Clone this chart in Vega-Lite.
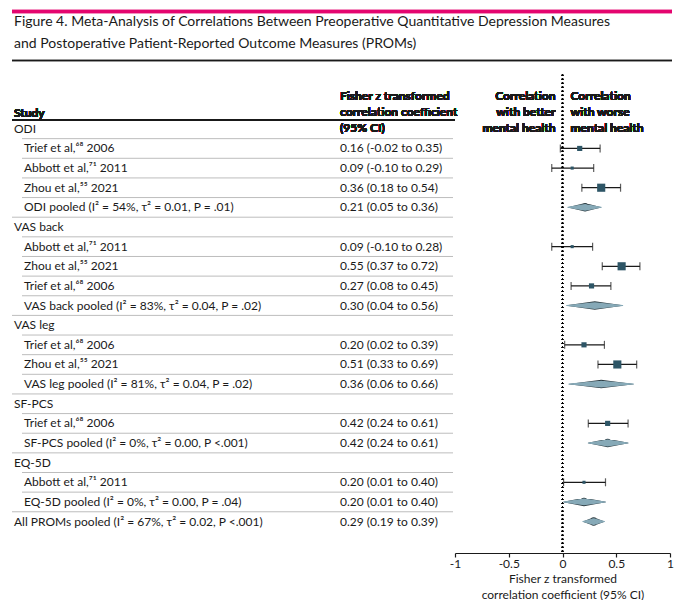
{
  "$schema": "https://vega.github.io/schema/vega-lite/v6.json",
  "padding": {"left": 10, "top": 0, "right": 0, "bottom": 0},
  "background": "white",
  "config": {
    "view": {"stroke": null},
    "font": "Lato",
    "text": {"font": "Lato", "fontSize": 12, "color": "#1a1a1a", "baseline": "middle", "align": "left"}
  },
  "datasets": {
    "rows": [
      {"row": 1, "label": "ODI", "level": 0, "type": "group"},
      {"row": 2, "label": "Trief et al,⁶⁸ 2006", "level": 1, "type": "study", "ci": "0.16 (-0.02 to 0.35)", "est": 0.16, "lo": -0.02, "hi": 0.35, "weight": 25},
      {"row": 3, "label": "Abbott et al,⁷¹ 2011", "level": 1, "type": "study", "ci": "0.09 (-0.10 to 0.29)", "est": 0.09, "lo": -0.10, "hi": 0.29, "weight": 9},
      {"row": 4, "label": "Zhou et al,⁵⁵ 2021", "level": 1, "type": "study", "ci": "0.36 (0.18 to 0.54)", "est": 0.36, "lo": 0.18, "hi": 0.54, "weight": 62},
      {"row": 5, "label": "ODI pooled (I² = 54%, τ² = 0.01, P = .01)", "level": 1, "type": "pooled", "ci": "0.21 (0.05 to 0.36)", "est": 0.21, "lo": 0.05, "hi": 0.36},
      {"row": 6, "label": "VAS back", "level": 0, "type": "group"},
      {"row": 7, "label": "Abbott et al,⁷¹ 2011", "level": 1, "type": "study", "ci": "0.09 (-0.10 to 0.28)", "est": 0.09, "lo": -0.10, "hi": 0.28, "weight": 9},
      {"row": 8, "label": "Zhou et al,⁵⁵ 2021", "level": 1, "type": "study", "ci": "0.55 (0.37 to 0.72)", "est": 0.55, "lo": 0.37, "hi": 0.72, "weight": 62},
      {"row": 9, "label": "Trief et al,⁶⁸ 2006", "level": 1, "type": "study", "ci": "0.27 (0.08 to 0.45)", "est": 0.27, "lo": 0.08, "hi": 0.45, "weight": 25},
      {"row": 10, "label": "VAS back pooled (I² = 83%, τ² = 0.04, P = .02)", "level": 1, "type": "pooled", "ci": "0.30 (0.04 to 0.56)", "est": 0.30, "lo": 0.04, "hi": 0.56},
      {"row": 11, "label": "VAS leg", "level": 0, "type": "group"},
      {"row": 12, "label": "Trief et al,⁶⁸ 2006", "level": 1, "type": "study", "ci": "0.20 (0.02 to 0.39)", "est": 0.20, "lo": 0.02, "hi": 0.39, "weight": 25},
      {"row": 13, "label": "Zhou et al,⁵⁵ 2021", "level": 1, "type": "study", "ci": "0.51 (0.33 to 0.69)", "est": 0.51, "lo": 0.33, "hi": 0.69, "weight": 62},
      {"row": 14, "label": "VAS leg pooled (I² = 81%, τ² = 0.04, P = .02)", "level": 1, "type": "pooled", "ci": "0.36 (0.06 to 0.66)", "est": 0.36, "lo": 0.06, "hi": 0.66},
      {"row": 15, "label": "SF-PCS", "level": 0, "type": "group"},
      {"row": 16, "label": "Trief et al,⁶⁸ 2006", "level": 1, "type": "study", "ci": "0.42 (0.24 to 0.61)", "est": 0.42, "lo": 0.24, "hi": 0.61, "weight": 25},
      {"row": 17, "label": "SF-PCS pooled (I² = 0%, τ² = 0.00, P <.001)", "level": 1, "type": "pooled", "ci": "0.42 (0.24 to 0.61)", "est": 0.42, "lo": 0.24, "hi": 0.61},
      {"row": 18, "label": "EQ-5D", "level": 0, "type": "group"},
      {"row": 19, "label": "Abbott et al,⁷¹ 2011", "level": 1, "type": "study", "ci": "0.20 (0.01 to 0.40)", "est": 0.20, "lo": 0.01, "hi": 0.40, "weight": 9},
      {"row": 20, "label": "EQ-5D pooled (I² = 0%, τ² = 0.00, P = .04)", "level": 1, "type": "pooled", "ci": "0.20 (0.01 to 0.40)", "est": 0.20, "lo": 0.01, "hi": 0.40},
      {"row": 21, "label": "All PROMs pooled (I² = 67%, τ² = 0.02, P <.001)", "level": 0, "type": "pooled", "ci": "0.29 (0.19 to 0.39)", "est": 0.29, "lo": 0.19, "hi": 0.39}
    ],
    "titles": [
      {"line": 22, "txt": "Figure 4. Meta-Analysis of Correlations Between Preoperative Quantitative Depression Measures"},
      {"line": 44, "txt": "and Postoperative Patient-Reported Outcome Measures (PROMs)"}
    ]
  },
  "bounds": "flush",
  "spacing": 0,
  "vconcat": [
    {
      "width": 660,
      "height": 64,
      "data": {"name": "titles"},
      "layer": [
        {
          "mark": {"type": "rule", "color": "#e4056f", "strokeWidth": 3.5},
          "encoding": {
            "x": {"datum": 0, "type": "quantitative", "scale": {"domain": [0, 660], "nice": false, "zero": false}, "axis": null},
            "x2": {"datum": 660},
            "y": {"datum": 11.5, "type": "quantitative", "scale": {"domain": [0, 64], "reverse": true, "nice": false, "zero": false}, "axis": null}
          }
        },
        {
          "mark": {"type": "rule", "color": "#1a1a1a", "strokeWidth": 1.3},
          "encoding": {
            "x": {"datum": 0, "type": "quantitative"},
            "x2": {"datum": 660},
            "y": {"datum": 60.5, "type": "quantitative"}
          }
        },
        {
          "mark": {"type": "text", "fontSize": 14, "color": "#1a1a1a"},
          "encoding": {
            "x": {"datum": 2, "type": "quantitative"},
            "y": {"field": "line", "type": "quantitative"},
            "text": {"field": "txt"}
          }
        }
      ]
    },
    {
      "width": 658,
      "height": 489,
      "data": {"name": "rows"},
      "encoding": {
        "y": {"field": "row", "type": "quantitative", "scale": {"domain": [-2.3, 22.6], "reverse": true, "nice": false, "zero": false}, "axis": null}
      },
      "resolve": {"scale": {"x": "independent"}, "axis": {"x": "independent"}},
      "layer": [
        {
          "layer": [
            {
              "mark": {"type": "text", "fontWeight": "bold"},
              "encoding": {
                "x": {"datum": 2, "type": "quantitative", "scale": {"domain": [0, 658], "nice": false, "zero": false}, "axis": null},
                "y": {"datum": 0.2, "type": "quantitative"},
                "text": {"value": "Study"}
              }
            },
            {
              "mark": {"type": "text", "fontWeight": "bold", "lineHeight": 16},
              "encoding": {
                "x": {"datum": 328, "type": "quantitative"},
                "y": {"datum": -0.67, "type": "quantitative"},
                "text": {"value": ["Fisher z transformed", "correlation coefficient", "(95% CI)"]}
              }
            },
            {
              "mark": {"type": "rule", "color": "#1a1a1a", "strokeWidth": 1.5},
              "encoding": {
                "x": {"datum": 0, "type": "quantitative"},
                "x2": {"datum": 443},
                "y": {"datum": 0.55, "type": "quantitative"}
              }
            },
            {
              "transform": [{"filter": "datum.row >= 2 && datum.level == 1"}],
              "mark": {"type": "rule", "color": "#bdbdbd", "strokeWidth": 1, "yOffset": -9.8},
              "encoding": {
                "x": {"datum": 10, "type": "quantitative"},
                "x2": {"datum": 441}
              }
            },
            {
              "transform": [{"filter": "datum.row >= 2 && datum.level == 0"}],
              "mark": {"type": "rule", "color": "#bdbdbd", "strokeWidth": 1, "yOffset": -9.8},
              "encoding": {
                "x": {"datum": 0, "type": "quantitative"},
                "x2": {"datum": 441}
              }
            },
            {
              "transform": [{"filter": "datum.level == 0"}],
              "mark": {"type": "text"},
              "encoding": {
                "x": {"datum": 2, "type": "quantitative"},
                "text": {"field": "label"}
              }
            },
            {
              "transform": [{"filter": "datum.level == 1"}],
              "mark": {"type": "text"},
              "encoding": {
                "x": {"datum": 12, "type": "quantitative"},
                "text": {"field": "label"}
              }
            },
            {
              "transform": [{"filter": "isValid(datum.ci)"}],
              "mark": {"type": "text"},
              "encoding": {
                "x": {"datum": 328, "type": "quantitative"},
                "text": {"field": "ci"}
              }
            }
          ]
        },
        {
          "layer": [
            {
              "transform": [{"filter": "datum.type == 'study'"}],
              "mark": {"type": "rule", "color": "#1a1a1a", "strokeWidth": 1.2},
              "encoding": {
                "x": {
                  "field": "lo", "type": "quantitative",
                  "scale": {"domain": [-1, 1], "range": [443, 658], "nice": false, "zero": false},
                  "title": ["Fisher z transformed", "correlation coefficient (95% CI)"],
                  "axis": {
                    "orient": "bottom",
                    "values": [-1, -0.5, 0, 0.5, 1],
                    "labelExpr": "toString(datum.value)",
                    "labelFlush": false,
                    "labelOverlap": false,
                    "grid": false,
                    "domainColor": "#1a1a1a",
                    "domainWidth": 1.2,
                    "tickColor": "#1a1a1a",
                    "tickSize": 4,
                    "tickWidth": 1.2,
                    "labelFontSize": 12,
                    "labelColor": "#1a1a1a",
                    "labelPadding": 1,
                    "labelFont": "Lato",
                    "titleFont": "Lato",
                    "titleFontSize": 12,
                    "titleFontWeight": "normal",
                    "titleColor": "#1a1a1a",
                    "titleLineHeight": 16,
                    "titlePadding": 4
                  }
                },
                "x2": {"field": "hi"}
              }
            },
            {
              "mark": {"type": "text", "fontWeight": "bold", "lineHeight": 16, "align": "right", "dx": -7},
              "encoding": {
                "x": {"datum": 0, "type": "quantitative"},
                "y": {"datum": -0.67, "type": "quantitative"},
                "text": {"value": ["Correlation", "with better", "mental health"]}
              }
            },
            {
              "mark": {"type": "text", "fontWeight": "bold", "lineHeight": 16, "align": "left", "dx": 8},
              "encoding": {
                "x": {"datum": 0, "type": "quantitative"},
                "y": {"datum": -0.67, "type": "quantitative"},
                "text": {"value": ["Correlation", "with worse", "mental health"]}
              }
            },
            {
              "mark": {"type": "rule", "color": "#000000", "strokeWidth": 1.2, "strokeDash": [1.2, 2.8], "strokeCap": "butt"},
              "encoding": {
                "x": {"datum": 0, "type": "quantitative"},
                "y": {"datum": -1.75, "type": "quantitative"},
                "y2": {"datum": 22.6}
              }
            },
            {
              "transform": [{"filter": "datum.type == 'study'"}, {"fold": ["lo", "hi"], "as": ["ck", "cv"]}],
              "mark": {"type": "tick", "orient": "vertical", "color": "#1a1a1a", "size": 8, "thickness": 1.2},
              "encoding": {
                "x": {"field": "cv", "type": "quantitative"}
              }
            },
            {
              "transform": [{"filter": "datum.type == 'study'"}],
              "mark": {"type": "point", "shape": "square", "filled": true, "color": "#2d5566", "opacity": 1},
              "encoding": {
                "x": {"field": "est", "type": "quantitative"},
                "size": {"field": "weight", "type": "quantitative", "scale": {"domain": [0, 62], "range": [0, 66]}, "legend": null}
              }
            },
            {
              "transform": [{"filter": "datum.type == 'pooled'"}, {"fold": ["lo", "est", "hi"], "as": ["k", "v"]}],
              "mark": {"type": "trail", "fill": "#2b3a40", "opacity": 1},
              "encoding": {
                "x": {"field": "v", "type": "quantitative"},
                "detail": {"field": "row", "type": "nominal"},
                "order": {"field": "v", "type": "quantitative"},
                "size": {"condition": {"test": "datum.k == 'est'", "value": 8.5}, "value": 0.4}
              }
            },
            {
              "transform": [{"filter": "datum.type == 'pooled'"}, {"fold": ["lo", "est", "hi"], "as": ["k", "v"]}],
              "mark": {"type": "trail", "fill": "#86a9b7", "opacity": 1},
              "encoding": {
                "x": {"field": "v", "type": "quantitative"},
                "detail": {"field": "row", "type": "nominal"},
                "order": {"field": "v", "type": "quantitative"},
                "size": {"condition": {"test": "datum.k == 'est'", "value": 6.8}, "value": 0}
              }
            }
          ]
        }
      ]
    }
  ]
}
